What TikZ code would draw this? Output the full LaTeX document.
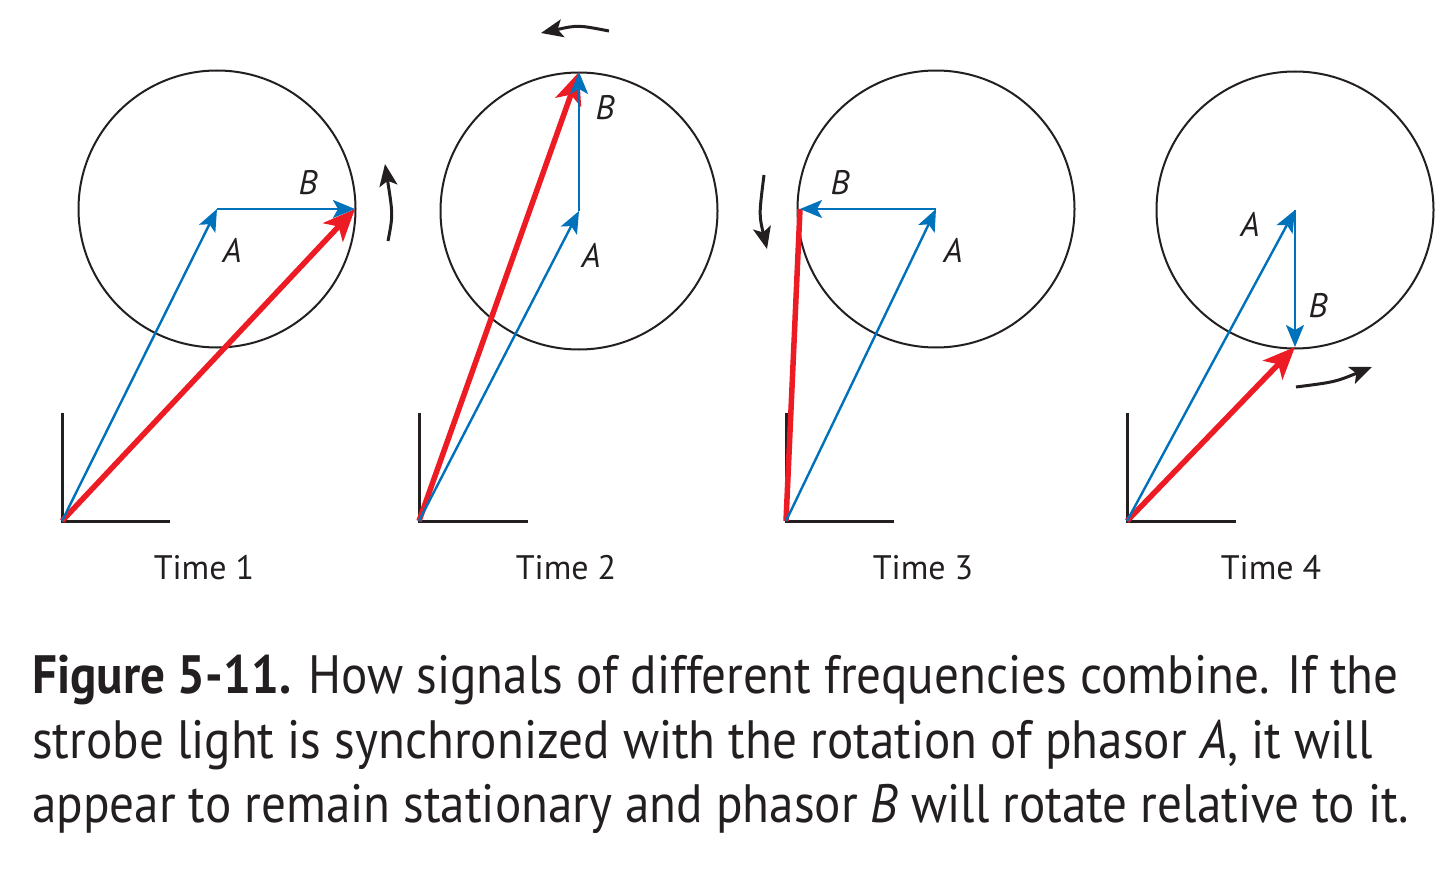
\documentclass[tikz,border=0pt]{standalone}
\usepackage{fontspec}
\setmainfont{PT Sans}
\newfontfamily\capfont{PT Sans}[FakeStretch=0.91]
\usepackage{tikz}
\usetikzlibrary{arrows.meta}
\definecolor{phasorblue}{RGB}{0,114,188}
\definecolor{phasorred}{RGB}{237,28,36}
\definecolor{inkblack}{RGB}{35,31,32}
\tikzstyle{vecA} = [draw=phasorblue, line width=2.4pt,
    -{Stealth[length=22pt, width=18pt, inset=5pt]}]
\tikzstyle{vecsum} = [draw=phasorred, line width=5.5pt,
    -{Stealth[length=32pt, width=27pt, inset=8pt]}]
\tikzstyle{circ} = [draw=inkblack, line width=2pt]
\tikzstyle{axes} = [draw=inkblack, line width=3pt]
\tikzstyle{turn} = [draw=inkblack, line width=3pt,
    -{Stealth[length=22pt, width=18pt, inset=5pt]}]
\tikzstyle{plabel} = [font=\fontsize{34}{34}\selectfont\itshape, text=inkblack, inner sep=0pt]
\tikzstyle{timelabel} = [font=\fontsize{34}{34}\selectfont, text=inkblack, inner sep=0pt, anchor=base]
\tikzstyle{capline} = [font=\capfont\fontsize{54}{65}\selectfont, text=inkblack, inner sep=0pt, anchor=base west]
\begin{document}
\begin{tikzpicture}[x=1pt, y=-1pt]
                \useasboundingbox (0,0) rectangle (1454,869);
                % Time 1
                \coordinate (O1) at (62,521);
                \coordinate (A1) at (217,209);
                \coordinate (B1) at (355,209);
                \draw[circ] (A1) circle (138.5);
                \draw[axes] (62,413) -- (O1) -- (170,521);
                \draw[vecsum] (O1) -- (B1);
                \draw[vecA] (O1) -- (A1);
                \draw[vecA] (A1) -- (B1);
                \node[plabel] (lA1) at (232,250) {A};
                \node[plabel] (lB1) at (308,183) {B};
                \coordinate (r1s) at (388,241);
                \coordinate (r1e) at (385,164);
                \draw[turn] (r1s) .. controls (393,215) .. (r1e);
                \node[timelabel] (t1) at (204,579) {Time 1};
                % Time 2
                \coordinate (O2) at (419,521);
                \coordinate (A2) at (579,211);
                \coordinate (B2) at (579,72);
                \draw[circ] (A2) circle (138.5);
                \draw[axes] (419,413) -- (O2) -- (528,521);
                \draw[vecsum] (O2) -- (B2);
                \draw[vecA] (O2) -- (A2);
                \draw[vecA] (A2) -- (B2);
                \node[plabel] (lA2) at (591,255) {A};
                \node[plabel] (lB2) at (605,108) {B};
                \coordinate (r2s) at (609,31);
                \coordinate (r2e) at (541,33);
                \draw[turn] (r2s) .. controls (578,25) .. (r2e);
                \node[timelabel] (t2) at (566,579) {Time 2};
                % Time 3
                \coordinate (O3) at (786,521);
                \coordinate (A3) at (936,209);
                \coordinate (B3) at (800,209);
                \draw[circ] (A3) circle (138.5);
                \draw[axes] (786,413) -- (O3) -- (894,521);
                \draw[vecsum, -] (O3) -- (B3);
                \draw[vecA] (O3) -- (A3);
                \draw[vecA] (A3) -- (B3);
                \node[plabel] (lA3) at (953,250) {A};
                \node[plabel] (lB3) at (840,183) {B};
                \coordinate (r3s) at (764,175);
                \coordinate (r3e) at (767,249);
                \draw[turn] (r3s) .. controls (759,215) .. (r3e);
                \node[timelabel] (t3) at (923,579) {Time 3};
                % Time 4
                \coordinate (O4) at (1127,521);
                \coordinate (A4) at (1295,210);
                \coordinate (B4) at (1295,347);
                \draw[circ] (A4) circle (138.5);
                \draw[axes] (1127,413) -- (O4) -- (1236,521);
                \draw[vecsum] (O4) -- (B4);
                \draw[vecA] (O4) -- (A4);
                \draw[vecA] (A4) -- (B4);
                \node[plabel] (lA4) at (1250,224) {A};
                \node[plabel] (lB4) at (1318,306) {B};
                \coordinate (r4s) at (1296,387);
                \coordinate (r4e) at (1372,367);
                \draw[turn] (r4s) .. controls (1335,382) .. (r4e);
                \node[timelabel] (t4) at (1271,579) {Time 4};
                % caption
                \node[capline] (cap1) at (32,693) {\textbf{Figure 5-11.} How signals of different frequencies combine. If the};
                \node[capline] (cap2) at (32,758) {strobe light is synchronized with the rotation of phasor \textit{A}, it will};
                \node[capline] (cap3) at (32,822) {appear to remain stationary and phasor \textit{B} will rotate relative to it.};
            \end{tikzpicture}
\end{document}
